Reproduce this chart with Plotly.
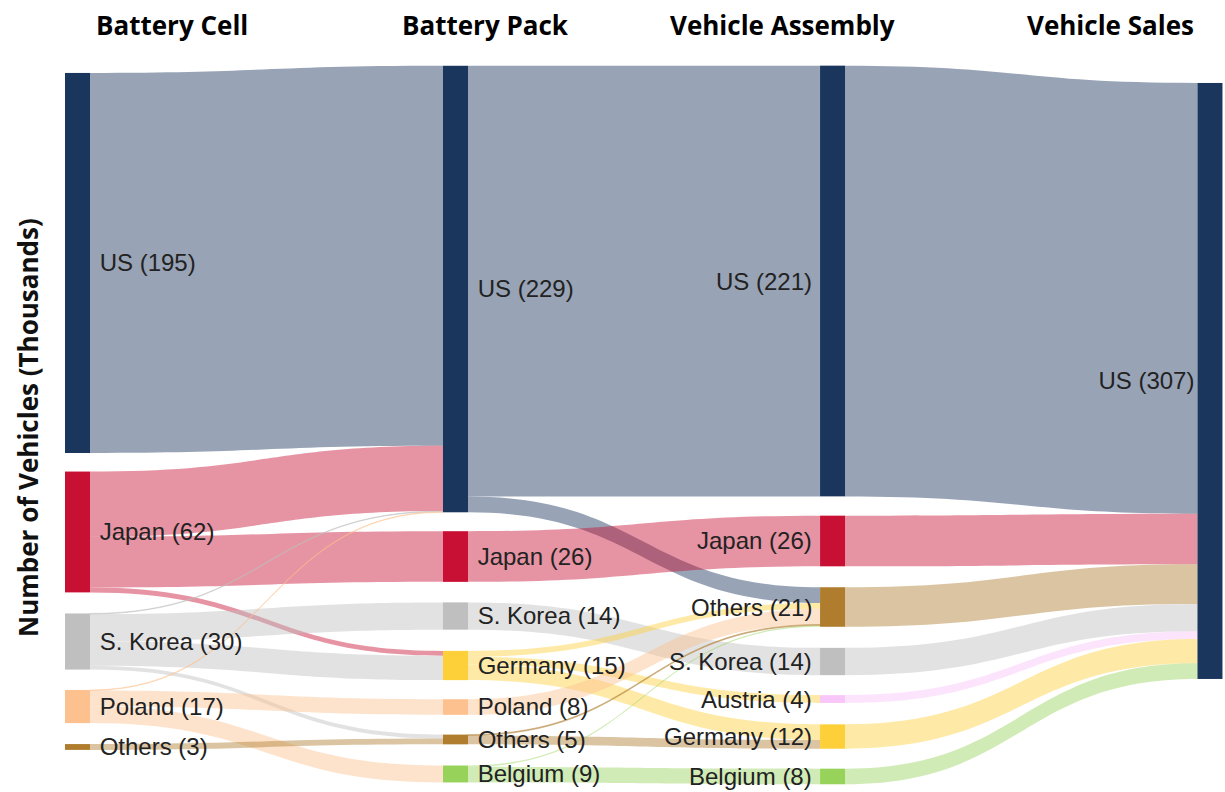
import plotly.graph_objects as go

# stage headers
stages = ["Battery Cell", "Battery Pack", "Vehicle Assembly", "Vehicle Sales"]

# nodes per stage (country, thousands of vehicles shown in label)
cell_countries = ["US", "Japan", "S. Korea", "Poland", "Others"]
cell_totals = [195, 62, 30, 17, 3]
pack_countries = ["US", "Japan", "S. Korea", "Germany", "Poland", "Others", "Belgium"]
pack_totals = [229, 26, 14, 15, 8, 5, 9]
assembly_countries = ["US", "Japan", "Others", "S. Korea", "Austria", "Germany", "Belgium"]
assembly_totals = [221, 26, 21, 14, 4, 12, 8]
sales_countries = ["US"]
sales_totals = [307]

# flows: (from country, to country, value)
cell_to_pack = [
    ("US", "US", 195),
    ("Japan", "US", 33.5),
    ("Japan", "Japan", 26),
    ("Japan", "Germany", 2.5),
    ("S. Korea", "US", 0.3),
    ("S. Korea", "S. Korea", 14),
    ("S. Korea", "Germany", 12.5),
    ("S. Korea", "Others", 2),
    ("Poland", "US", 0.3),
    ("Poland", "Poland", 8),
    ("Poland", "Belgium", 8.7),
    ("Others", "Others", 3),
]
pack_to_assembly = [
    ("US", "US", 221),
    ("US", "Others", 8.1),
    ("Japan", "Japan", 26),
    ("S. Korea", "S. Korea", 14),
    ("Germany", "Others", 3),
    ("Germany", "Austria", 4),
    ("Germany", "Germany", 8),
    ("Poland", "Others", 8),
    ("Others", "Others", 0.5),
    ("Others", "Germany", 4.5),
    ("Belgium", "Belgium", 8),
    ("Belgium", "Others", 0.7),
]
assembly_to_sales = [
    ("US", "US", 221),
    ("Japan", "US", 26),
    ("Others", "US", 20.3),
    ("S. Korea", "US", 14),
    ("Austria", "US", 4),
    ("Germany", "US", 12.5),
    ("Belgium", "US", 8),
]

colors = {
    "US": (27, 54, 93),
    "Japan": (200, 16, 52),
    "S. Korea": (191, 191, 191),
    "Poland": (253, 193, 143),
    "Others": (176, 125, 46),
    "Germany": (253, 208, 58),
    "Belgium": (151, 211, 90),
    "Austria": (249, 198, 249),
}

# layout of the columns (normalised centres)
col_x = [0.0108, 0.3375, 0.6634, 0.9896]
cell_y = [0.2737, 0.6494, 0.8024, 0.8932, 0.9497]
pack_y = [0.3101, 0.6837, 0.7668, 0.8359, 0.8939, 0.9392, 0.9874]
assembly_y = [0.2989, 0.6620, 0.7542, 0.8303, 0.8827, 0.9351, 0.9909]
sales_y = [0.4385]

columns = [
    (cell_countries, cell_totals, cell_y),
    (pack_countries, pack_totals, pack_y),
    (assembly_countries, assembly_totals, assembly_y),
    (sales_countries, sales_totals, sales_y),
]

W, H = 1225, 792
ml, mr, mt, mb = 65, 3, 67, 9
pw, ph = W - ml - mr, H - mt - mb
label_font = dict(family="Liberation Sans, Arial", size=24, color="#222222")

labels, node_colors, xs, ys, index = [], [], [], [], {}
left_labels = []  # third column gets its labels on the left side
for c, (names, totals, yy) in enumerate(columns):
    for name, tot, y in zip(names, totals, yy):
        index[(c, name)] = len(labels)
        text = f"{name} ({tot})"
        if c == 2:
            labels.append("")
            left_labels.append((text, col_x[c], y))
        elif c == 3:
            labels.append(text)
        else:
            labels.append("\u00a0" + text)
        node_colors.append("rgb(%d,%d,%d)" % colors[name])
        xs.append(col_x[c])
        ys.append(y)

src, tgt, val, link_colors = [], [], [], []
for c, flows in enumerate([cell_to_pack, pack_to_assembly, assembly_to_sales]):
    for a, b, v in flows:
        src.append(index[(c, a)])
        tgt.append(index[(c + 1, b)])
        val.append(v)
        link_colors.append("rgba(%d,%d,%d,0.45)" % colors[a])

node = dict(label=labels, color=node_colors, x=xs, y=ys, pad=20, thickness=25,
            line=dict(width=0))
link = dict(source=src, target=tgt, value=val, color=link_colors)
try:
    sankey = go.Sankey(arrangement="fixed", node=node, link=link,
                       textfont=dict(label_font, shadow="none"))
except ValueError:
    sankey = go.Sankey(arrangement="fixed", node=node, link=link, textfont=label_font)

fig = go.Figure(sankey)

for text, x, y in left_labels:
    fig.add_annotation(
        text=text, xref="paper", yref="paper",
        x=x - (12.5 + 6) / pw, y=1 - y,
        xanchor="right", yanchor="middle", showarrow=False,
        font=label_font,
    )

header_px = [172, 485, 782, 1110]
for name, px_ in zip(stages, header_px):
    fig.add_annotation(
        text=f"<b>{name}</b>", xref="paper", yref="paper",
        x=(px_ - ml) / pw, y=1 + (mt - 25) / ph,
        xanchor="center", yanchor="middle", showarrow=False,
        font=dict(family="Open Sans", size=26, color="black"),
    )

fig.add_annotation(
    text="<b>Number of Vehicles (Thousands)</b>", xref="paper", yref="paper",
    x=(28 - ml) / pw, y=1 - (428 - mt) / ph, textangle=-90,
    xanchor="center", yanchor="middle", showarrow=False,
    font=dict(family="Open Sans", size=26, color="#111111"),
)

fig.update_layout(
    width=W, height=H,
    margin=dict(l=ml, r=mr, t=mt, b=mb),
    paper_bgcolor="white",
    plot_bgcolor="white",
    font=dict(family="Liberation Sans, Arial"),
)

fig.write_html("out.html", config={"displayModeBar": False},
               post_script="document.body.style.margin='0';")
